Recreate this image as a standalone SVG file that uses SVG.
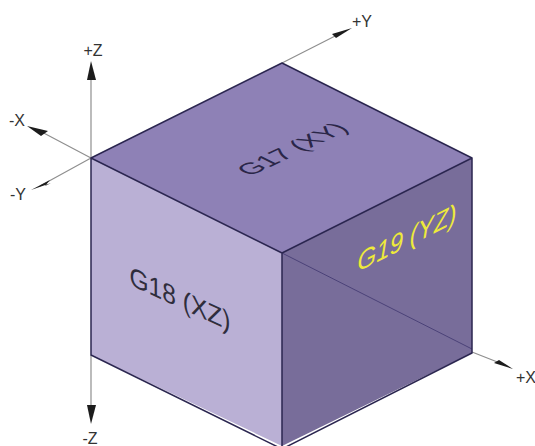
<svg xmlns="http://www.w3.org/2000/svg" width="535" height="446" viewBox="0 0 535 446">
<style>
.axis{stroke:#8f8f8f;stroke-width:1.2;fill:none}
.head{fill:#1c1c1c;stroke:none}
.edge{stroke:#2b2650;stroke-width:1.5;fill:none;stroke-linejoin:round}
.lbl{font-family:"Liberation Sans",Arial,sans-serif;font-size:16px;fill:#333;text-anchor:middle}
.face{font-family:"Liberation Sans",Arial,sans-serif;font-size:27px;text-anchor:middle}
</style>
<rect width="535" height="446" fill="#fff"/>
<g id="connectors">
<path class="axis" d="M91 158V70M91 158L38 130M91 158L40 186M282 63L343 32M472 352L505 365M91 355V415"/>
<path class="head" d="M91 61L96 80H87Z"/>
<path class="head" d="M27 126L48 131L41 136Z"/>
<path class="head" d="M31 190L50 180L45 186L51 183Z"/>
<path class="head" d="M352 28L336 38L332 34Z"/>
<path class="head" d="M513 369L494 363L499 360Z"/>
<path class="head" d="M91 424L96 405H87Z"/>
</g>
<g id="face-xy">
<path d="M91 158L282 63L472 158L282 253Z" fill="#8e81b6"/>
<text class="face" fill="#2a2648" transform="matrix(.89 -.42 .85 .42 300 153)">G17 (XY)</text>
</g>
<g id="face-xz">
<path d="M91 158L282 253V446H282L91 355Z" fill="#bab0d5"/>
<text class="face" fill="#2f2d3c" transform="matrix(.91 .42 0 1 180 308)">G18 (XZ)</text>
</g>
<g id="face-yz">
<path d="M282 253L472 158V353L282 446Z" fill="#786d9a"/>
<path d="M282 253L472 349" stroke="#4b4278" stroke-width="1" fill="none"/>
<text class="face" fill="#eeea3a" font-style="italic" transform="matrix(.89 -.45 0 1 407 247)">G19 (YZ)</text>
</g>
<g id="edges">
<path class="edge" d="M91 158L282 63L472 158L282 253ZM91 158V355L282 449M282 253V449M472 158V353L282 449"/>
</g>
<g id="labels">
<text class="lbl" x="93" y="56">+Z</text>
<text class="lbl" x="17" y="126">-X</text>
<text class="lbl" x="18" y="200">-Y</text>
<text class="lbl" x="362" y="27">+Y</text>
<text class="lbl" x="90" y="444">-Z</text>
<text class="lbl" x="526" y="383">+X</text>
</g>
</svg>
